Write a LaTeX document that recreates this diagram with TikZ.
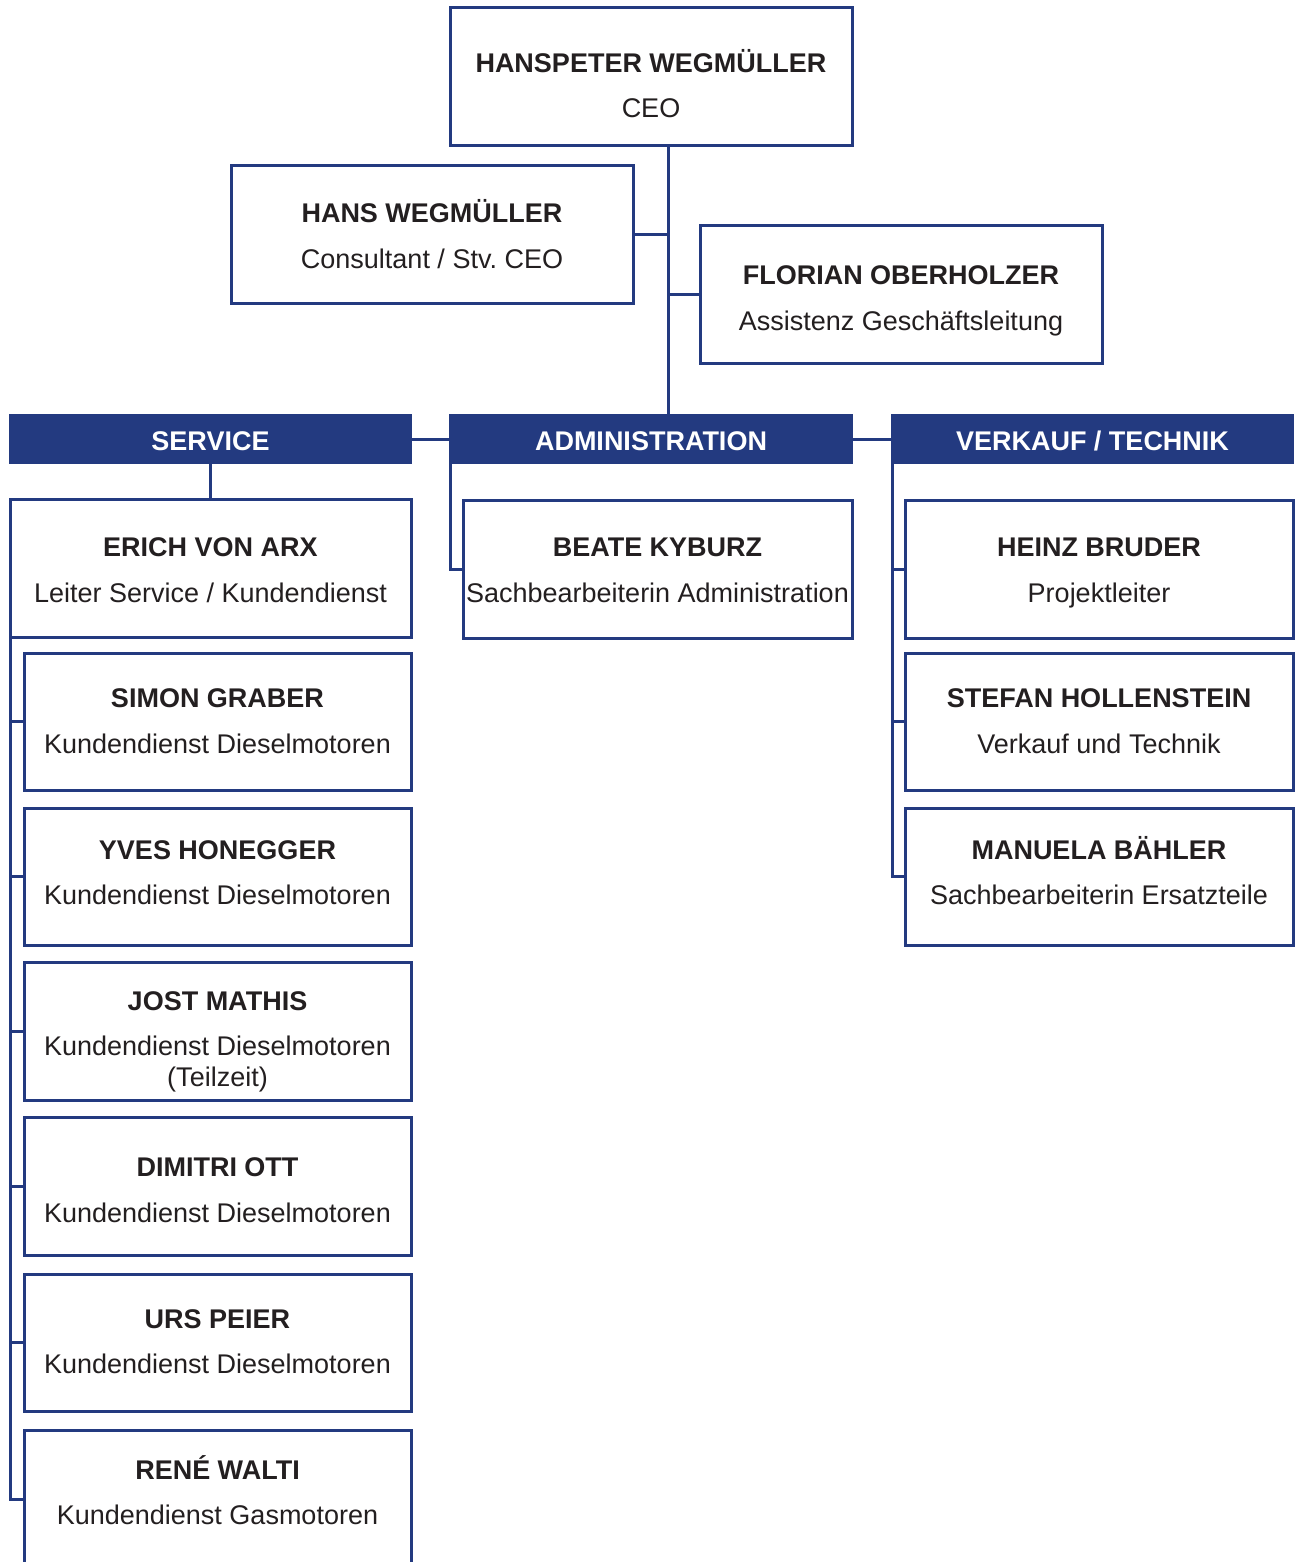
\documentclass[tikz,border=0pt]{standalone}
\usepackage{fontspec}
\setmainfont{Liberation Sans}
\frenchspacing
\definecolor{orgblue}{HTML}{233A80}
\definecolor{txtgray}{HTML}{231F20}
\newcommand{\orgbox}[6][boxstyle]{%
  \pgfmathsetmacro{\bxw}{#5-#3}%
  \pgfmathsetmacro{\bxh}{#6-#4}%
  \pgfmathsetmacro{\bxc}{(#3+#5)/2}%
  \pgfmathsetmacro{\byc}{(#4+#6)/2}%
  \node[#1, minimum width=\bxw pt, minimum height=\bxh pt] (#2) at (\bxc,\byc) {};}
\tikzset{
  boxstyle/.style={draw=orgblue, line width=3pt, fill=white, inner sep=0pt, outer sep=0pt},
  headstyle/.style={fill=orgblue, draw=none, inner sep=0pt, outer sep=0pt},
  conn/.style={draw=orgblue, line width=3pt},
  nm/.style={anchor=base, text=txtgray, font=\fontsize{27}{32}\selectfont\bfseries, inner sep=0pt},
  tt/.style={anchor=base, text=txtgray, font=\fontsize{27}{32}\selectfont, inner sep=0pt},
  ht/.style={anchor=base, text=white, font=\fontsize{27}{32}\selectfont\bfseries, inner sep=0pt},
}
\begin{document}
\begin{tikzpicture}[x=1pt,y=-1pt]
\path[use as bounding box] (0,0) rectangle (1300,1562);
\clip (0,0) rectangle (1300,1562);
\fill[white] (0,0) rectangle (1300,1562);
% boxes
\orgbox{ceo}{450}{8}{852}{146}
\orgbox{hans}{231}{166}{633}{303}
\orgbox{flor}{700}{226}{1102}{363}
\orgbox[headstyle]{hsvc}{9}{414}{412}{464}
\orgbox[headstyle]{hadm}{449}{414}{853}{464}
\orgbox[headstyle]{hvk}{891}{414}{1294}{464}
\orgbox{erich}{10}{499}{411}{637}
\orgbox{beate}{463}{500}{852}{638}
\orgbox{heinz}{905}{500}{1293}{638}
\orgbox{simon}{24}{653}{411}{790}
\orgbox{stefan}{905}{653}{1293}{790}
\orgbox{yves}{24}{808}{411}{945}
\orgbox{manuela}{905}{808}{1293}{945}
\orgbox{jost}{24}{962}{411}{1100}
\orgbox{dimitri}{24}{1117}{411}{1255}
\orgbox{urs}{24}{1274}{411}{1411}
\orgbox{rene}{24}{1430}{411}{1568}
% connectors
\coordinate (trunk) at (668,146);
\draw[conn] (trunk) -- (trunk |- hadm.north);
\draw[conn] (hans.east) -- (hans.east -| trunk);
\draw[conn] (flor.west) -- (flor.west -| trunk);
\draw[conn] (hsvc.east) -- (hadm.west);
\draw[conn] (hadm.east) -- (hvk.west);
\draw[conn] (hsvc.south) -- (erich.north);
\draw[conn] (erich.south west) -- (erich.south west |- rene.west) -- (rene.west);
\foreach \b in {simon,yves,jost,dimitri,urs}
  \draw[conn] (\b.west -| erich.west) -- (\b.west);
\draw[conn] (hadm.south west) ++(1.5,0) coordinate (admspine) -- (admspine |- beate.west) -- (beate.west);
\draw[conn] (hvk.south west) ++(1.5,0) coordinate (vkspine) -- (vkspine |- manuela.west) -- (manuela.west);
\draw[conn] (heinz.west -| vkspine) -- (heinz.west);
\draw[conn] (stefan.west -| vkspine) -- (stefan.west);
% header texts
\node[ht] (thsvc) at (hsvc.center |- 0,450) {SERVICE};
\node[ht] (thadm) at (hadm.center |- 0,450) {ADMINISTRATION};
\node[ht] (thvk) at (hvk.center |- 0,450) {VERKAUF / TECHNIK};
% person texts
\node[nm] (nceo) at (ceo.center |- 0,72.5) {HANSPETER WEGMÜLLER};
\node[tt] (tceo) at (ceo.center |- 0,118) {CEO};
\node[nm] (nhans) at (hans.center |- 0,223) {HANS WEGMÜLLER};
\node[tt] (thans) at (hans.center |- 0,269) {Consultant / Stv. CEO};
\node[nm] (nflor) at (flor.center |- 0,284) {FLORIAN OBERHOLZER};
\node[tt] (tflor) at (flor.center |- 0,330) {Assistenz Geschäftsleitung};
\node[nm] (nerich) at (erich.center |- 0,556) {ERICH VON ARX};
\node[tt] (terich) at (erich.center |- 0,602) {Leiter Service / Kundendienst};
\node[nm] (nbeate) at (beate.center |- 0,556) {BEATE KYBURZ};
\node[tt] (tbeate) at (beate.center |- 0,602) {Sachbearbeiterin Administration};
\node[nm] (nheinz) at (heinz.center |- 0,556) {HEINZ BRUDER};
\node[tt] (theinz) at (heinz.center |- 0,602) {Projektleiter};
\node[nm] (nsimon) at (simon.center |- 0,707) {SIMON GRABER};
\node[tt] (tsimon) at (simon.center |- 0,753) {Kundendienst Dieselmotoren};
\node[nm] (nstefan) at (stefan.center |- 0,707) {STEFAN HOLLENSTEIN};
\node[tt] (tstefan) at (stefan.center |- 0,753) {Verkauf und Technik};
\node[nm] (nyves) at (yves.center |- 0,859) {YVES HONEGGER};
\node[tt] (tyves) at (yves.center |- 0,904) {Kundendienst Dieselmotoren};
\node[nm] (nmanuela) at (manuela.center |- 0,859) {MANUELA BÄHLER};
\node[tt] (tmanuela) at (manuela.center |- 0,904) {Sachbearbeiterin Ersatzteile};
\node[nm] (njost) at (jost.center |- 0,1010.5) {JOST MATHIS};
\node[tt] (tjost) at (jost.center |- 0,1055) {Kundendienst Dieselmotoren};
\node[tt] (tjost2) at (jost.center |- 0,1086) {(Teilzeit)};
\node[nm] (ndimitri) at (dimitri.center |- 0,1176) {DIMITRI OTT};
\node[tt] (tdimitri) at (dimitri.center |- 0,1222) {Kundendienst Dieselmotoren};
\node[nm] (nurs) at (urs.center |- 0,1328) {URS PEIER};
\node[tt] (turs) at (urs.center |- 0,1373) {Kundendienst Dieselmotoren};
\node[nm] (nrene) at (rene.center |- 0,1479) {RENÉ WALTI};
\node[tt] (trene) at (rene.center |- 0,1524) {Kundendienst Gasmotoren};
\end{tikzpicture}
\end{document}
